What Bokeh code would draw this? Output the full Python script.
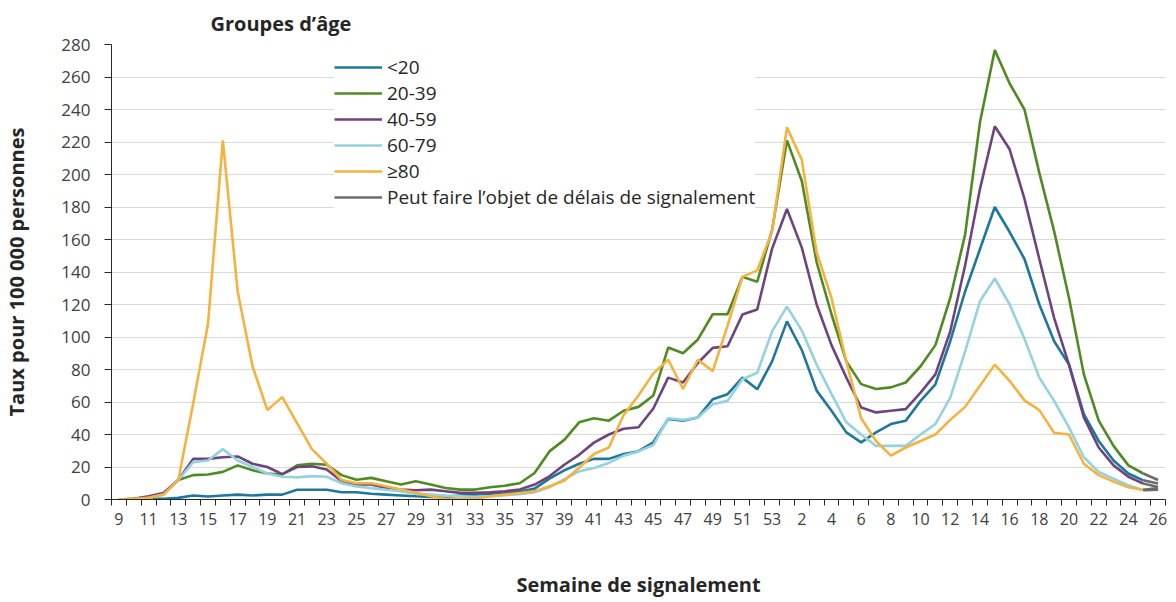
from bokeh.plotting import figure
from bokeh.models import Range1d, FixedTicker, Legend, LegendItem
from bokeh.embed import file_html
from bokeh.resources import INLINE

# Reporting weeks: 9..53 of the first year, then 1..26 of the next year
weeks = list(range(9, 54)) + list(range(1, 27))

series_names = ["<20", "20-39", "40-59", "60-79", "≥80"]
delay_label = "Peut faire l’objet de délais de signalement"

lt20 = [0, 0, 0.5, 0.5, 1, 2.5, 1.8, 2.5, 3, 2.5, 3, 3, 6, 6, 6, 4.5, 4.5, 3.5, 3, 2.5,
        2, 1.6, 1.6, 2.5, 3, 3.5, 4, 4.7, 6.7, 12.8, 17.9, 22, 25, 25, 28, 29.7, 35.2, 49.5, 48.5, 50.5,
        61.7, 64.8, 75, 67.8, 85,
        109.6, 92, 67, 54.6, 41.3, 35.2, 41.3, 46.4, 48.5, 60.7, 70.9, 97.4, 128, 154, 180, 164.6,
        148, 120, 97.4, 83, 52.5, 36, 24, 16, 11.8, 9.8]
a20_39 = [0, 0.5, 1.5, 3.5, 12, 15, 15.4, 17, 21, 18, 16, 15.4, 21, 22, 21.4, 15, 12.2, 13.3, 11.2, 9.2,
          11.2, 9.2, 7.1, 6.1, 6.1, 7.5, 8.5, 10, 16.3, 29.6, 36.7, 47.5, 50, 48.5, 54.6, 57, 64, 93.5, 90, 98.5,
          114, 114, 137, 134, 166,
          221, 196, 146, 114, 85, 71, 68, 69, 72, 82, 95, 124, 163, 232, 276.6, 256,
          240, 201, 165, 124, 77, 48.5, 33, 21, 16, 12]
a40_59 = [0, 0.5, 2, 4, 12, 25, 25, 26, 26.5, 22, 20, 15.6, 20, 20.4, 18.4, 11.2, 9.2, 9.2, 7.1, 6.1,
          5.7, 6.1, 5.1, 4.1, 4.1, 4.5, 5.1, 6.1, 9.2, 14.3, 21.4, 27.5, 35, 40, 43.5, 44.5, 56, 75, 72, 84,
          93.3, 94.3, 113.8, 116.9, 154.4,
          178.8, 155, 120, 95, 75, 56.6, 53.6, 54.6, 55.6, 65.8, 77, 103.5, 144, 191, 229.7, 215.5,
          185, 148, 111.6, 83, 50.5, 32, 21, 14, 9.8, 7.7]
a60_79 = [0, 0, 1, 3, 12, 23, 24, 31, 24, 20, 16, 14, 13.6, 14.4, 14, 10, 8, 7, 6, 5,
          3.6, 3, 2.4, 2, 1.6, 2, 2.6, 3.2, 4.5, 7.5, 12.5, 17.3, 19.4, 22.5, 27, 29.6, 33.5, 50, 49, 50.5,
          58.6, 60.7, 74, 78, 103.5,
          118.7, 104, 83, 65, 47.5, 40, 33, 33, 33, 40, 46.4, 62.7, 91, 122, 136, 120,
          99, 75, 60.7, 44.4, 26, 17, 12.8, 8.8, 5.7, 6]
ge80 = [0, 0.5, 1, 3, 12, 59, 108, 221, 128, 82, 55, 63, 47, 31, 22, 12, 10, 10, 8.2, 6.1,
        4.1, 2, 0.5, 0.5, 0.5, 2, 3, 4, 5, 8.2, 11.5, 19.5, 28, 32, 52, 64, 77.6, 86, 68, 86,
        79, 107, 137, 141, 165,
        229, 209, 152, 124, 85, 50, 36, 27, 32, 36, 40, 49, 57, 70, 83, 73,
        61, 55, 41, 40, 22, 15, 11, 7.5, 6, 7]

y_ticks = list(range(0, 281, 20))

colors = ["#1f789c", "#4f8b22", "#6e447e", "#93d2de", "#f4b23f"]
grey = "#6b6b6b"
n_delay = 2  # last points that may be subject to reporting delays

x = list(range(len(weeks)))
all_series = [lt20, a20_39, a40_59, a60_79, ge80]

p = figure(width=1170, height=600, output_backend="svg", toolbar_location=None,
           x_range=Range1d(-0.5, len(weeks) - 0.5), y_range=Range1d(0, 280),
           min_border_left=111, min_border_right=5, min_border_top=42, min_border_bottom=100)
p.outline_line_color = None
p.background_fill_color = "white"
p.border_fill_color = "white"

renderers = []
grey_r = None
cut = len(weeks) - n_delay + 1
for vals, col in zip(all_series, colors):
    r = p.line(x[:cut], vals[:cut], line_color=col, line_width=2.6)
    renderers.append(r)
for vals in all_series:
    g = p.line(x[cut - 1:], vals[cut - 1:], line_color=grey, line_width=2.6)
    if grey_r is None:
        grey_r = g

font = "Open Sans"
p.xgrid.visible = False
p.ygrid.grid_line_color = "#d9d9d9"
p.ygrid.grid_line_width = 1
p.yaxis.ticker = FixedTicker(ticks=y_ticks)
p.yaxis.axis_line_color = "#262626"
p.yaxis.major_tick_line_color = "#262626"
p.yaxis.major_tick_out = 7
p.yaxis.major_tick_in = 0
p.yaxis.minor_tick_line_color = None
p.yaxis.major_label_standoff = 14
p.yaxis.major_label_text_font = font
p.yaxis.major_label_text_font_size = "17px"
p.yaxis.major_label_text_color = "#404040"
p.yaxis.axis_label = "Taux pour 100 000 personnes"
p.yaxis.axis_label_text_font = font
p.yaxis.axis_label_text_font_style = "bold"
p.yaxis.axis_label_text_font_size = "20px"
p.yaxis.axis_label_text_color = "#262626"
p.yaxis.axis_label_standoff = 28

label_idx = list(range(0, len(weeks), 2))
p.xaxis.ticker = FixedTicker(ticks=label_idx, minor_ticks=[i - 0.5 for i in range(len(weeks) + 1)])
p.xaxis.major_label_overrides = {i: str(weeks[i]) for i in label_idx}
p.xaxis.axis_line_color = "#262626"
p.xaxis.major_tick_out = 0
p.xaxis.major_tick_in = 0
p.xaxis.minor_tick_out = 6
p.xaxis.minor_tick_in = 0
p.xaxis.minor_tick_line_color = "#262626"
p.xaxis.major_label_standoff = 7
p.xaxis.major_label_text_font = font
p.xaxis.major_label_text_font_size = "16px"
p.xaxis.major_label_text_color = "#404040"
p.xaxis.axis_label = "Semaine de signalement"
p.xaxis.axis_label_text_font = font
p.xaxis.axis_label_text_font_style = "bold"
p.xaxis.axis_label_text_font_size = "20px"
p.xaxis.axis_label_text_color = "#262626"
p.xaxis.axis_label_standoff = 43

items = [LegendItem(label=n, renderers=[r]) for n, r in zip(series_names, renderers)]
items.append(LegendItem(label=delay_label, renderers=[grey_r]))
legend = Legend(items=items, location=(223, 289), orientation="vertical",
                background_fill_color="white", background_fill_alpha=1,
                border_line_color=None, padding=8, spacing=0, margin=0,
                glyph_width=48, glyph_height=26, label_height=26, label_standoff=5,
                label_text_font=font, label_text_font_size="19px", label_text_color="#262626")
p.add_layout(legend)

p.title.text = "Groupes d’âge"
p.title.align = "left"
p.title.offset = 99
p.title.standoff = 15
p.title.text_font = font
p.title.text_font_style = "bold"
p.title.text_font_size = "20px"
p.title.text_color = "#262626"

open("out.html", "w").write(file_html(p, INLINE))
